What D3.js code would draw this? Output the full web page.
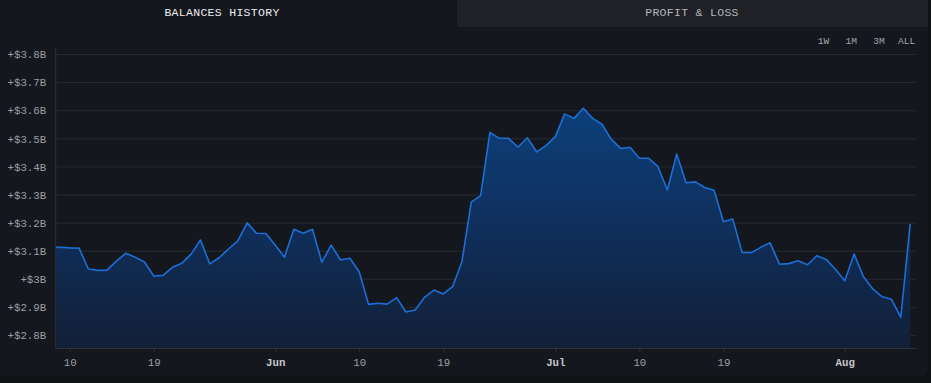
<!DOCTYPE html>
<html>
<head>
<meta charset="utf-8">
<script src="https://cdn.jsdelivr.net/npm/d3@7"></script>
<style>
  html, body { margin: 0; padding: 0; background: #0f1115; }
  svg { display: block; }
</style>
</head>
<body>
<svg id="chart" width="931" height="383"></svg>
<script>
// ---- data ----
const dates = [
  "2024-05-08","2024-05-09","2024-05-10","2024-05-11","2024-05-12","2024-05-13","2024-05-14","2024-05-15",
  "2024-05-16","2024-05-17","2024-05-18","2024-05-19","2024-05-20","2024-05-21","2024-05-22","2024-05-23",
  "2024-05-24","2024-05-25","2024-05-26","2024-05-27","2024-05-28","2024-05-29","2024-05-30","2024-05-31",
  "2024-06-01","2024-06-02","2024-06-03","2024-06-04","2024-06-05","2024-06-06","2024-06-07","2024-06-08",
  "2024-06-09","2024-06-10","2024-06-11","2024-06-12","2024-06-13","2024-06-14","2024-06-15","2024-06-16",
  "2024-06-17","2024-06-18","2024-06-19","2024-06-20","2024-06-21","2024-06-22","2024-06-23","2024-06-24",
  "2024-06-25","2024-06-26","2024-06-27","2024-06-28","2024-06-29","2024-06-30",
  "2024-07-01","2024-07-02","2024-07-03","2024-07-04","2024-07-05","2024-07-06","2024-07-07","2024-07-08",
  "2024-07-09","2024-07-10","2024-07-11","2024-07-12","2024-07-13","2024-07-14","2024-07-15","2024-07-16",
  "2024-07-17","2024-07-18","2024-07-19","2024-07-20","2024-07-21","2024-07-22","2024-07-23","2024-07-24",
  "2024-07-25","2024-07-26","2024-07-27","2024-07-28","2024-07-29","2024-07-30","2024-07-31",
  "2024-08-01","2024-08-02","2024-08-03","2024-08-04","2024-08-05","2024-08-06","2024-08-07","2024-08-08"
];
// balance in billions of USD
const balances = [
  3.113,3.112,3.110,3.109,3.035,3.030,3.031,3.063,
  3.091,3.077,3.060,3.010,3.012,3.041,3.055,3.088,
  3.138,3.053,3.075,3.106,3.135,3.199,3.162,3.161,
  3.120,3.077,3.176,3.162,3.176,3.059,3.120,3.067,
  3.073,3.025,2.909,2.913,2.910,2.933,2.882,2.889,
  2.934,2.960,2.946,2.972,3.061,3.273,3.296,3.521,
  3.500,3.500,3.468,3.502,3.452,3.474,
  3.506,3.587,3.571,3.607,3.571,3.550,3.496,3.464,
  3.468,3.429,3.429,3.399,3.316,3.444,3.342,3.345,
  3.325,3.315,3.203,3.213,3.094,3.093,3.112,3.128,
  3.052,3.054,3.064,3.050,3.082,3.069,3.034,
  2.993,3.088,3.007,2.964,2.936,2.927,2.863,3.195
];
const xDomain = ["2024-05-08T12:00", "2024-08-08T15:00"];
const yDomain = [2.7537, 3.8214];
const xTickDates = ["2024-05-10","2024-05-19","2024-06-01","2024-06-10","2024-06-19","2024-07-01","2024-07-10","2024-07-19","2024-08-01"];
const yTickValues = [2.8, 2.9, 3.0, 3.1, 3.2, 3.3, 3.4, 3.5, 3.6, 3.7, 3.8];
const tabLabels = ["BALANCES HISTORY", "PROFIT & LOSS"];
const rangeButtons = ["1W", "1M", "3M", "ALL"];

// ---- layout ----
const W = 931, H = 383;
const plot = { left: 55.7, right: 916, top: 48, bottom: 348 };
const FONT = "'Liberation Mono', 'DejaVu Sans Mono', monospace";

const parseDay = d3.utcParse("%Y-%m-%d");
const parseDT = d3.utcParse("%Y-%m-%dT%H:%M");
const data = dates.map((d, i) => ({ date: parseDay(d), value: balances[i] }));

const svg = d3.select("#chart");

// panel background
svg.append("rect").attr("x", 0).attr("y", 0).attr("width", W).attr("height", H).attr("fill", "#0f1115");
svg.append("path")
  .attr("d", `M0,0 H928 V368 Q928,376 920,376 H0 Z`)
  .attr("fill", "#15171e");

// tabs
svg.append("rect").attr("x", 457).attr("y", 0).attr("width", 471).attr("height", 27).attr("fill", "#1f2127");
svg.append("text").attr("x", 222).attr("y", 15.5)
  .attr("text-anchor", "middle").attr("font-family", FONT).attr("font-size", 11.5)
  .attr("letter-spacing", 0.3).attr("fill", "#ececee").text(tabLabels[0]);
svg.append("text").attr("x", 692).attr("y", 15.5)
  .attr("text-anchor", "middle").attr("font-family", FONT).attr("font-size", 11.5)
  .attr("letter-spacing", 0.3).attr("fill", "#b4b6bb").text(tabLabels[1]);

// range buttons
const btnX = d3.scalePoint().domain(rangeButtons).range([823.5, 906.7]);
svg.append("g").selectAll("text").data(rangeButtons).join("text")
  .attr("x", d => btnX(d) + (d === "ALL" ? 0 : 0)).attr("y", 43.5)
  .attr("text-anchor", "middle").attr("font-family", FONT).attr("font-size", 9.6)
  .attr("fill", "#a4a6ab").text(d => d);

// scales
const x = d3.scaleUtc().domain(xDomain.map(parseDT)).range([plot.left, plot.right]);
const y = d3.scaleLinear().domain(yDomain).range([plot.bottom, plot.top]);

// gridlines + y labels
const yAxis = d3.axisLeft(y).tickValues(yTickValues)
  .tickSize(-(plot.right - plot.left))
  .tickPadding(9)
  .tickFormat(v => `+$${+v.toFixed(1)}B`);
const gy = svg.append("g").attr("transform", `translate(${plot.left},0)`).call(yAxis);
gy.select(".domain").remove();
gy.selectAll(".tick line").attr("stroke", "#272a32").attr("stroke-width", 1).attr("x1", -2);
gy.selectAll(".tick text").attr("font-family", FONT).attr("font-size", 10.75).attr("fill", "#9c9ea4").attr("dy", "0.35em").attr("x", -9.5);

// clip
svg.append("defs").append("clipPath").attr("id", "plotclip")
  .append("rect").attr("x", plot.left).attr("y", plot.top - 10)
  .attr("width", plot.right - plot.left).attr("height", plot.bottom - plot.top + 10);

// gradient
const grad = svg.select("defs").append("linearGradient").attr("id", "fillgrad")
  .attr("gradientUnits", "userSpaceOnUse").attr("x1", 0).attr("x2", 0).attr("y1", 100).attr("y2", plot.bottom);
grad.append("stop").attr("offset", "0%").attr("stop-color", "#0c417c");
grad.append("stop").attr("offset", "45%").attr("stop-color", "#0f3160");
grad.append("stop").attr("offset", "100%").attr("stop-color", "#121f37");

const area = d3.area().x(d => x(d.date)).y0(plot.bottom).y1(d => y(d.value));
const line = d3.line().x(d => x(d.date)).y(d => y(d.value));

const gPlot = svg.append("g").attr("clip-path", "url(#plotclip)");
gPlot.append("path").datum(data).attr("d", area).attr("fill", "url(#fillgrad)");
gPlot.append("path").datum(data).attr("d", line).attr("fill", "none")
  .attr("stroke", "#1b6fd6").attr("stroke-width", 1.6).attr("stroke-linejoin", "round");

// y axis line
svg.append("line").attr("x1", plot.left).attr("x2", plot.left).attr("y1", plot.top).attr("y2", plot.bottom)
  .attr("stroke", "#2c2f38").attr("stroke-width", 1);

// x axis
const monthFmt = d3.utcFormat("%b"), dayFmt = d3.utcFormat("%-d");
const xAxis = d3.axisBottom(x).tickValues(xTickDates.map(parseDay))
  .tickSize(4).tickPadding(6)
  .tickFormat(d => d.getUTCDate() === 1 ? monthFmt(d) : dayFmt(d));
const gx = svg.append("g").attr("transform", `translate(0,${plot.bottom})`).call(xAxis);
gx.select(".domain").attr("d", `M${plot.left},0.5H${plot.right}`).attr("stroke", "#2f323b");
gx.selectAll(".tick line").attr("stroke", "#2f323b");
gx.selectAll(".tick text").attr("font-family", FONT).attr("font-size", 10.75)
  .attr("fill", d => d.getUTCDate() === 1 ? "#c3c5c9" : "#9c9ea4")
  .attr("font-weight", d => d.getUTCDate() === 1 ? "bold" : "normal");
</script>
</body>
</html>
